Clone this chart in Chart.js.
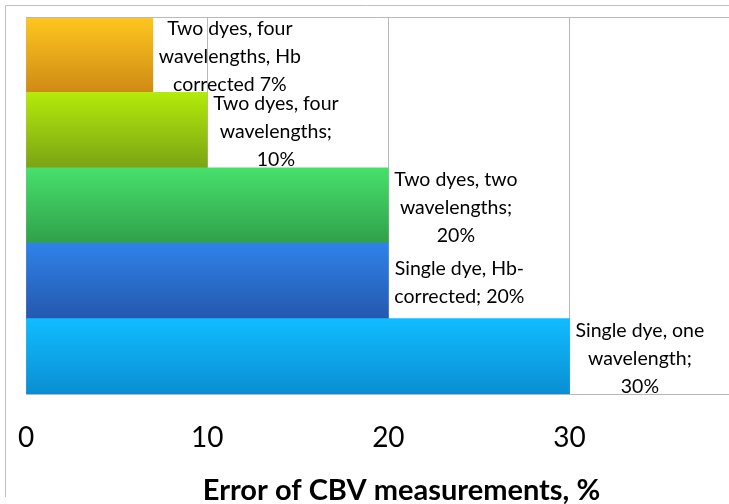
<!DOCTYPE html>
<html><head><meta charset="utf-8">
<script src="https://cdn.jsdelivr.net/npm/chart.js@4"></script>
<style>html,body{margin:0;padding:0;background:#fff}#wrap{width:729px;height:504px}</style>
</head><body><div id="wrap"><canvas id="c" width="729" height="504"></canvas></div>
<script>
const categories = ["Two dyes, four wavelengths, Hb corrected", "Two dyes, four wavelengths", "Two dyes, two wavelengths", "Single dye, Hb-corrected", "Single dye, one wavelength"];
const errorValues = [7, 10, 20, 20, 30];
const barLabels = [
  ["Two dyes, four", "wavelengths, Hb", "corrected 7%"],
  ["Two dyes, four", "wavelengths;", "10%"],
  ["Two dyes, two", "wavelengths;", "20%"],
  ["Single dye, Hb-", "corrected; 20%"],
  ["Single dye, one", "wavelength;", "30%"]
];
const xTicks = [0, 10, 20, 30];
const topColors = ["#FFC720", "#B3EB0A", "#47E06C", "#2F82E9", "#10BDFF"];
const bottomColors = ["#CF8A14", "#7BA314", "#30A04A", "#2458AE", "#0A8ED3"];
const axisTitle = "Error of CBV measurements, %";

const FONT = "Lato, 'Open Sans', sans-serif";

const gradFill = (ctx) => {
  const chart = ctx.chart;
  const i = ctx.dataIndex;
  const ys = chart.scales.y;
  if (!chart.chartArea || !ys) return topColors[i];
  const c = ys.getPixelForValue(i);
  const half = (ys.bottom - ys.top) / categories.length / 2;
  const g = chart.ctx.createLinearGradient(0, c - half, 0, c + half);
  g.addColorStop(0, topColors[i]);
  g.addColorStop(1, bottomColors[i]);
  return g;
};

const framePlugin = {
  id: 'frame',
  beforeDraw(chart) {
    const ctx = chart.ctx;
    ctx.save();
    ctx.strokeStyle = '#c0c0c0';
    ctx.lineWidth = 1;
    ctx.beginPath();
    ctx.moveTo(5.5, 497);
    ctx.lineTo(5.5, 5.5);
    ctx.lineTo(chart.width, 5.5);
    ctx.stroke();
    ctx.restore();
  },
  afterDraw(chart) {
    const ctx = chart.ctx, a = chart.chartArea;
    ctx.save();
    ctx.strokeStyle = '#b8b8b8';
    ctx.lineWidth = 1;
    ctx.beginPath();
    ctx.moveTo(a.left, Math.round(a.top) + 0.5);
    ctx.lineTo(a.right, Math.round(a.top) + 0.5);
    ctx.stroke();
    // axis title (centred on the original, wider plot area)
    ctx.font = "bold 29px " + FONT;
    ctx.fillStyle = '#000';
    ctx.textAlign = 'center';
    ctx.textBaseline = 'alphabetic';
    ctx.fillText(axisTitle, (a.left + a.right) / 2 + 24, chart.height - 4);
    ctx.restore();
  }
};

const labelPlugin = {
  id: 'barText',
  afterDatasetsDraw(chart) {
    const ctx = chart.ctx;
    const meta = chart.getDatasetMeta(0);
    ctx.save();
    ctx.font = "19.5px " + FONT;
    ctx.fillStyle = '#000';
    ctx.textAlign = 'center';
    ctx.textBaseline = 'middle';
    const lh = 28;
    meta.data.forEach((bar, i) => {
      const lines = barLabels[i];
      const w = Math.max(...lines.map(l => ctx.measureText(l).width));
      const cx = bar.x + 6 + w / 2;
      const startY = bar.y + 2 - (lines.length - 1) * lh / 2;
      lines.forEach((l, k) => ctx.fillText(l, cx, startY + k * lh));
    });
    ctx.restore();
  }
};

new Chart(document.getElementById('c'), {
  type: 'bar',
  data: {
    labels: categories,
    datasets: [{
      data: errorValues,
      backgroundColor: gradFill,
      borderWidth: 0,
      barPercentage: 1,
      categoryPercentage: 1
    }]
  },
  plugins: [framePlugin, labelPlugin],
  options: {
    indexAxis: 'y',
    responsive: false,
    animation: false,
    layout: { padding: { left: 26, right: 0, top: 17, bottom: 22 } },
    plugins: { legend: { display: false }, tooltip: { enabled: false } },
    scales: {
      y: { display: false },
      x: {
        min: 0, max: 38.8,
        afterBuildTicks(scale) { scale.ticks = xTicks.map(v => ({ value: v })); },
        afterFit(scale) { scale.paddingLeft = 0; scale.paddingRight = 0; },
        grid: { color: '#b8b8b8', drawTicks: false, lineWidth: 1 },
        border: { display: true, color: '#b8b8b8' },
        ticks: { font: { family: FONT, size: 28, lineHeight: 1 }, color: '#000', padding: 30, maxRotation: 0 },
        title: { display: false }
      }
    }
  }
});
</script></body></html>
